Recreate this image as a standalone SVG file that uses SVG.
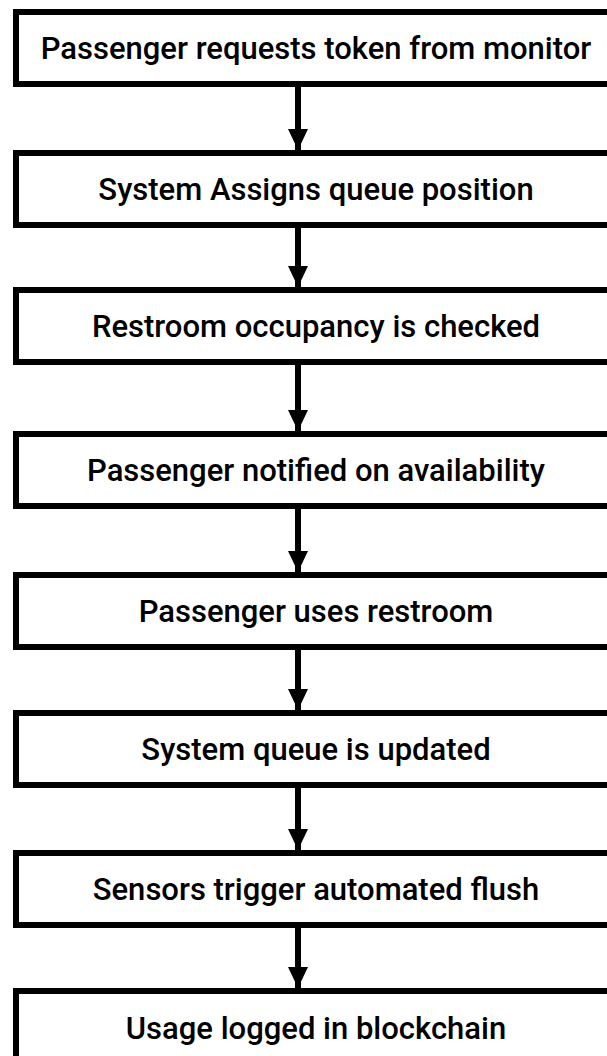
<svg xmlns="http://www.w3.org/2000/svg" width="607" height="1056" viewBox="0 0 607 1056">
<style>
.box{fill:#fff;stroke:#000;stroke-width:6}
.lbl{font-family:Roboto,"Liberation Sans",Arial,sans-serif;font-weight:500;font-size:31px;fill:#000;text-anchor:middle}
.conn{stroke:#000;stroke-width:6;fill:none}
</style>
<defs>
<marker id="ah" markerUnits="userSpaceOnUse" markerWidth="22" markerHeight="22" refX="21" refY="10" orient="auto">
<path d="M0,0 L21,10 L0,20 Z" fill="#000"/>
</marker>
</defs>
<rect width="607" height="1056" fill="#fff"/>
<g id="connectors">
<line class="conn" x1="298" y1="87" x2="298" y2="150" marker-end="url(#ah)"/>
<line class="conn" x1="298" y1="228" x2="298" y2="287" marker-end="url(#ah)"/>
<line class="conn" x1="298" y1="365" x2="298" y2="431" marker-end="url(#ah)"/>
<line class="conn" x1="298" y1="509" x2="298" y2="572" marker-end="url(#ah)"/>
<line class="conn" x1="298" y1="650" x2="298" y2="710" marker-end="url(#ah)"/>
<line class="conn" x1="298" y1="788" x2="298" y2="850" marker-end="url(#ah)"/>
<line class="conn" x1="298" y1="928" x2="298" y2="988" marker-end="url(#ah)"/>
</g>
<g id="n1"><rect class="box" x="16" y="12" width="600" height="72"/><text class="lbl" x="316" y="59">Passenger requests token from monitor</text></g>
<g id="n2"><rect class="box" x="16" y="153" width="600" height="72"/><text class="lbl" x="316" y="200">System Assigns queue position</text></g>
<g id="n3"><rect class="box" x="16" y="290" width="600" height="72"/><text class="lbl" x="316" y="337">Restroom occupancy is checked</text></g>
<g id="n4"><rect class="box" x="16" y="434" width="600" height="72"/><text class="lbl" x="316" y="481">Passenger notified on availability</text></g>
<g id="n5"><rect class="box" x="16" y="575" width="600" height="72"/><text class="lbl" x="316" y="622">Passenger uses restroom</text></g>
<g id="n6"><rect class="box" x="16" y="713" width="600" height="72"/><text class="lbl" x="316" y="760">System queue is updated</text></g>
<g id="n7"><rect class="box" x="16" y="853" width="600" height="72"/><text class="lbl" x="316" y="900">Sensors trigger automated flush</text></g>
<g id="n8"><rect class="box" x="16" y="991" width="600" height="72"/><text class="lbl" x="316" y="1039">Usage logged in blockchain</text></g>
</svg>
